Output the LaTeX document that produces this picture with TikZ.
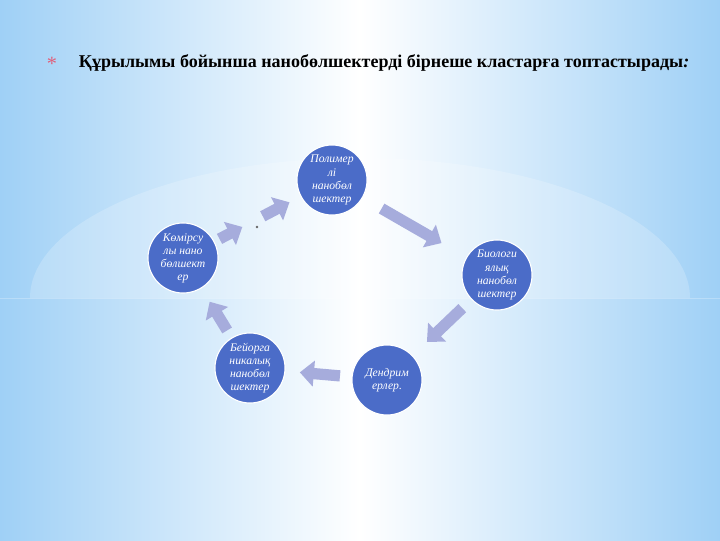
\documentclass[tikz,border=0pt]{standalone}
\usepackage{fontspec}
\setmainfont{Liberation Serif}
\usepackage{xcolor}
\usepackage{tikz}
\usetikzlibrary{arrows.meta}
\definecolor{skyblu}{HTML}{9FD0F6}
\definecolor{discblu}{HTML}{4B6CC8}
\definecolor{lav}{HTML}{A6ACDC}
\definecolor{starred}{HTML}{E0607C}

\begin{document}
\begin{tikzpicture}[x=0.025cm,y=-0.025cm,
  disc/.style={circle,fill=discblu,draw=white,line width=0.8pt,minimum size=1.75cm,inner sep=0pt,
    align=center,text=white,font=\fontsize{8.3}{9.3}\selectfont\itshape},
  blockarr/.style={lav,line width=8pt,-{Triangle[length=10pt,width=18pt]}}]
\useasboundingbox (0,0) rectangle (720,540);
% background
\shade[left color=skyblu,right color=skyblu,middle color=white] (0,0) rectangle (720,540);
\fill[white,opacity=0.2] (30,298) arc[start angle=180,end angle=360,x radius=330,y radius=140] -- cycle;
\draw[white,opacity=0.25] (0,298) -- (720,298);
% title
\node[text=starred,font=\Large] (star) at (52,64) {*};
\node[anchor=west,font=\bfseries\fontsize{12.8}{15}\selectfont] (title) at (74,63)
  {Құрылымы бойынша нанобөлшектерді бірнеше кластарға топтастырады\textit{:}};
% cycle of discs
\node[disc] (poly) at (332,180) {Полимер\\лі\\нанобөл\\шектер};
\node[disc] (bio) at (497,275) {Биологи\\ялық\\нанобөл\\шектер};
\node[disc] (dend) at (387,380) {Дендрим\\ерлер.};
\node[disc] (inorg) at (250,368) {Бейорга\\никалық\\нанобөл\\шектер};
\node[disc] (carb) at (183,258) {Көмірсу\\лы нано\\бөлшект\\ер};
% arrows
\draw[blockarr,shorten <=1.43cm,shorten >=1.6cm] (poly.center) -- (bio.center);
\draw[blockarr,shorten <=1.2cm,shorten >=1.38cm] (bio.center) -- (dend.center);
\draw[blockarr,shorten <=1.18cm,shorten >=1.25cm] (dend.center) -- (inorg.center);
\draw[blockarr,shorten <=1.1cm,shorten >=1.28cm] (inorg.center) -- (carb.center);
\draw[blockarr,shorten <=1.03cm,shorten >=2.53cm] (carb.center) -- (poly.center);
\draw[blockarr,shorten <=2.25cm,shorten >=1.2cm] (carb.center) -- (poly.center);
\fill[black!60] (257,227) circle[radius=1.4];
\end{tikzpicture}
\end{document}
